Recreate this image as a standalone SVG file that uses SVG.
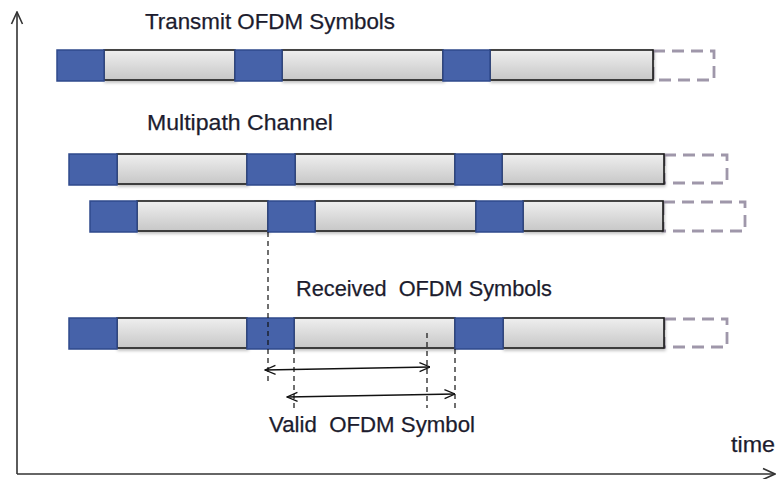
<svg xmlns="http://www.w3.org/2000/svg" width="776" height="479" viewBox="0 0 776 479">
  <defs>
    <linearGradient id="gGray" x1="0" y1="0" x2="0" y2="1">
      <stop offset="0" stop-color="#efefef"/>
      <stop offset="1" stop-color="#c7c7c7"/>
    </linearGradient>
    <filter id="shadow" x="-5%" y="-20%" width="110%" height="160%">
      <feDropShadow dx="1" dy="2" stdDeviation="1.5" flood-color="#000" flood-opacity="0.25"/>
    </filter>
    <marker id="axisHead" viewBox="0 0 14 14" refX="13" refY="7" markerWidth="14" markerHeight="14" markerUnits="userSpaceOnUse" orient="auto">
      <path d="M1,1.5 L13,7 L1,12.5" fill="none" stroke="#333" stroke-width="1.6"/>
    </marker>
    <marker id="dimHead" viewBox="0 0 12 12" refX="11.5" refY="6" markerWidth="12" markerHeight="12" markerUnits="userSpaceOnUse" orient="auto-start-reverse">
      <path d="M1,1.5 L11.5,6 L1,10.5" fill="none" stroke="#111" stroke-width="1.3"/>
    </marker>
  </defs>
  <style>
    .cp { fill: #4662a9; stroke: #2f4a8c; stroke-width: 1.5; }
    .data { fill: url(#gGray); stroke: #1a1a1a; stroke-width: 1.6; }
    .ghost { fill: #fff; stroke: #9f97aa; stroke-width: 2.8; stroke-dasharray: 12 7; }
    .lbl { font-family: "Liberation Sans", Arial, sans-serif; font-size: 22px; fill: #1c1c2e; stroke: #1c1c2e; stroke-width: 0.25; white-space: pre; }
    .axis { stroke: #333; stroke-width: 1.6; fill: none; }
    .guide { stroke: #111; stroke-width: 1.2; stroke-dasharray: 5 4; fill: none; }
    .dim { stroke: #111; stroke-width: 1.3; fill: none; }
  </style>

  <rect width="776" height="479" fill="#fff"/>

  <!-- time/amplitude axes -->
  <g id="axes">
    <path class="axis" d="M17,474 L17,12" marker-end="url(#axisHead)"/>
    <path class="axis" d="M17,474 L775,474" marker-end="url(#axisHead)"/>
  </g>

  <!-- transmitted symbol stream -->
  <g id="tx-row">
    <rect class="ghost" x="653" y="51" width="61" height="29"/>
    <g filter="url(#shadow)">
      <rect class="data" x="104" y="50" width="131" height="30"/>
      <rect class="data" x="282" y="50" width="161" height="30"/>
      <rect class="data" x="490" y="50" width="163" height="30"/>
    </g>
    <rect class="cp" x="57" y="50" width="47" height="31"/>
    <rect class="cp" x="235" y="50" width="47" height="31"/>
    <rect class="cp" x="443" y="50" width="47" height="31"/>
  </g>

  <!-- multipath: direct path -->
  <g id="path1-row">
    <rect class="ghost" x="664" y="155" width="63" height="28"/>
    <g filter="url(#shadow)">
      <rect class="data" x="117" y="154" width="130" height="30"/>
      <rect class="data" x="295" y="154" width="160" height="30"/>
      <rect class="data" x="502" y="154" width="162" height="30"/>
    </g>
    <rect class="cp" x="69" y="154" width="48" height="31"/>
    <rect class="cp" x="247" y="154" width="48" height="31"/>
    <rect class="cp" x="455" y="154" width="47" height="31"/>
  </g>

  <!-- multipath: delayed path -->
  <g id="path2-row">
    <rect class="ghost" x="663" y="202" width="82" height="29"/>
    <g filter="url(#shadow)">
      <rect class="data" x="137" y="201" width="131" height="30"/>
      <rect class="data" x="315" y="201" width="161" height="30"/>
      <rect class="data" x="523" y="201" width="140" height="30"/>
    </g>
    <rect class="cp" x="90" y="201" width="47" height="31"/>
    <rect class="cp" x="268" y="201" width="47" height="31"/>
    <rect class="cp" x="476" y="201" width="47" height="31"/>
  </g>

  <!-- received symbol stream -->
  <g id="rx-row">
    <rect class="ghost" x="664" y="319" width="63" height="28"/>
    <g filter="url(#shadow)">
      <rect class="data" x="117" y="318" width="130" height="30"/>
      <rect class="data" x="294" y="318" width="161" height="30"/>
      <rect class="data" x="503" y="318" width="161" height="30"/>
    </g>
    <rect class="cp" x="69" y="318" width="48" height="31"/>
    <rect class="cp" x="247" y="318" width="47" height="31"/>
    <rect class="cp" x="455" y="318" width="48" height="31"/>
  </g>

  <!-- guide lines and FFT window spans -->
  <g id="connectors">
    <path class="guide" d="M268,232 L268,385"/>
    <path class="guide" d="M294,349 L294,408"/>
    <path class="guide" d="M427,333 L427,408"/>
    <path class="guide" d="M455,349 L455,408"/>
    <path class="dim" d="M265,370 L430,367" marker-start="url(#dimHead)" marker-end="url(#dimHead)"/>
    <path class="dim" d="M287,397 L455,394" marker-start="url(#dimHead)" marker-end="url(#dimHead)"/>
  </g>

  <!-- labels -->
  <g id="labels">
    <text class="lbl" x="145" y="29" textLength="250" lengthAdjust="spacingAndGlyphs">Transmit OFDM Symbols</text>
    <text class="lbl" x="147" y="130" textLength="186" lengthAdjust="spacingAndGlyphs">Multipath Channel</text>
    <text class="lbl" x="296" y="296" textLength="256" lengthAdjust="spacingAndGlyphs">Received  OFDM Symbols</text>
    <text class="lbl" x="269" y="432" textLength="206" lengthAdjust="spacingAndGlyphs">Valid  OFDM Symbol</text>
    <text class="lbl" x="731" y="452" textLength="44" lengthAdjust="spacingAndGlyphs">time</text>
  </g>
</svg>
